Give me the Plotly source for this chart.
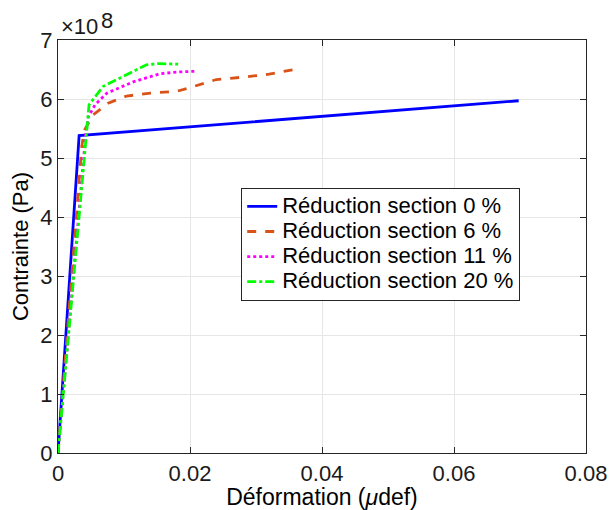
import plotly.graph_objects as go

# Strain (x) and stress (Pa) for each reduction of cross-section
x_0 = [0.0, 0.0032, 0.0698]
y_0 = [0.0, 5.38e8, 5.97e8]

x_6 = [0.0, 0.0036, 0.0040, 0.0053, 0.0076, 0.0104, 0.0140, 0.0180, 0.0205, 0.0240, 0.0280, 0.0320, 0.0362]
y_6 = [0.0, 5.20e8, 5.47e8, 5.73e8, 5.93e8, 6.05e8, 6.10e8, 6.13e8, 6.21e8, 6.33e8, 6.37e8, 6.42e8, 6.51e8]

x_11 = [0.0, 0.0042, 0.0046, 0.0056, 0.0074, 0.0114, 0.0155, 0.0185, 0.0208]
y_11 = [0.0, 5.40e8, 5.70e8, 5.90e8, 6.10e8, 6.29e8, 6.43e8, 6.46e8, 6.47e8]

x_20 = [0.0, 0.0044, 0.0047, 0.0068, 0.0099, 0.0134, 0.0152, 0.0182]
y_20 = [0.0, 5.50e8, 5.90e8, 6.21e8, 6.38e8, 6.58e8, 6.60e8, 6.59e8]

series_names = ["Réduction section 0 %", "Réduction section 6 %",
                "Réduction section 11 %", "Réduction section 20 %"]
series_colors = ["#0000FF", "#D95319", "#FF00FF", "#00FF00"]
series_dash = ["solid", "dash", "dot", "dashdot"]

x_ticks = [0, 0.02, 0.04, 0.06, 0.08]
x_tick_text = ["0", "0.02", "0.04", "0.06", "0.08"]
y_ticks = [0, 1e8, 2e8, 3e8, 4e8, 5e8, 6e8, 7e8]
y_tick_text = ["0", "1", "2", "3", "4", "5", "6", "7"]

FONT = "Liberation Sans, Arial, sans-serif"

fig = go.Figure()
for xs, ys, name, color, dash in zip([x_0, x_6, x_11, x_20], [y_0, y_6, y_11, y_20],
                                     series_names, series_colors, series_dash):
    # legend rows are spaced by the legend font size; the label itself is drawn larger
    label = f'<span style="font-size:22px">{name}</span>'
    fig.add_trace(go.Scatter(x=xs, y=ys, mode="lines", name=label,
                             line=dict(color=color, width=2.8, dash=dash)))

axis_common = dict(showline=True, linecolor="#262626", linewidth=1.2, mirror="ticks",
                   ticks="inside", ticklen=6, tickcolor="#262626", automargin=False,
                   showgrid=True, gridcolor="#E6E6E6", gridwidth=1, zeroline=False,
                   tickfont=dict(family=FONT, size=22, color="#1a1a1a"))

fig.update_xaxes(range=[0, 0.08], tickvals=x_ticks, ticktext=x_tick_text,
                 title=dict(text="Déformation (<i>μ</i>def)", standoff=0,
                            font=dict(family=FONT, size=23, color="#000")),
                 **axis_common)
fig.update_yaxes(range=[0, 7e8], tickvals=y_ticks, ticktext=y_tick_text,
                 title=dict(text="Contrainte (Pa)", standoff=5,
                            font=dict(family=FONT, size=22, color="#000")),
                 **axis_common)

# axis exponent: "×10" with a full-size raised "8"
fig.add_annotation(xref="paper", yref="paper", x=0.0, y=1.0, xanchor="left", yanchor="middle",
                   text="×10", showarrow=False, xshift=1, yshift=14,
                   font=dict(family=FONT, size=22, color="#1a1a1a"))
fig.add_annotation(xref="paper", yref="paper", x=0.0, y=1.0, xanchor="left", yanchor="middle",
                   text="8", showarrow=False, xshift=41, yshift=20,
                   font=dict(family=FONT, size=22, color="#1a1a1a"))

fig.update_layout(
    width=611, height=510,
    margin=dict(l=58, r=25, t=40, b=57),
    paper_bgcolor="white", plot_bgcolor="white",
    legend=dict(x=0.347, y=0.642, xanchor="left", yanchor="top",
                bgcolor="white", bordercolor="#262626", borderwidth=1,
                font=dict(family=FONT, size=17, color="#000"),
                tracegroupgap=0, itemwidth=30),
    showlegend=True,
)

fig.write_html("out.html")
